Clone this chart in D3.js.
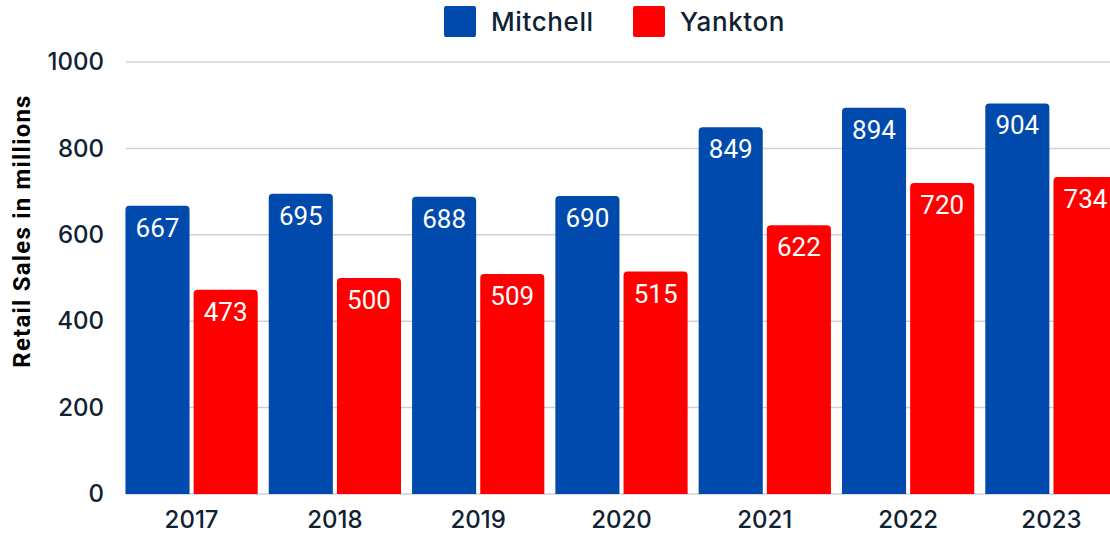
<!DOCTYPE html>
<html><head><meta charset="utf-8">
<script src="https://cdn.jsdelivr.net/npm/d3@7"></script>
<style>body{margin:0;background:#fff}svg{display:block}</style>
</head><body>
<svg id="c" width="1110" height="536"></svg>
<script>
const years = ["2017","2018","2019","2020","2021","2022","2023"];
const seriesNames = ["Mitchell","Yankton"];
const mitchell = [667,695,688,690,849,894,904];
const yankton = [473,500,509,515,622,720,734];
const yTicks = [0,200,400,600,800,1000];
const colors = ["#004aad","#ff0000"];
const textColor = "#0f2234";
const font = "Inter, 'Open Sans', sans-serif";

const svg = d3.select("#c");
const x = d3.scaleBand().domain(years).range([120, 1123]).paddingInner(0.077).paddingOuter(0.038);
const y = d3.scaleLinear().domain([0,1000]).range([494, 62]);
const x1 = d3.scaleBand().domain(seriesNames).range([0, x.bandwidth()]).paddingInner(0.06);

// grid
const yAxis = d3.axisLeft(y).tickValues(yTicks).tickSize(0).tickPadding(0).tickFormat(d3.format("d"));
const gy = svg.append("g").attr("transform","translate(104,0)").call(yAxis);
gy.select(".domain").remove();
gy.selectAll("text").attr("font-family",font).attr("font-size",24).attr("fill",textColor).attr("font-weight",500);
svg.append("g").selectAll("line").data(yTicks).join("line")
  .attr("x1",126).attr("x2",1110).attr("y1",d=>y(d)).attr("y2",d=>y(d))
  .attr("stroke","#ccd1d9").attr("stroke-width",1.5);

// bars
const data = years.map((yr,i)=>({year:yr, vals:[mitchell[i], yankton[i]]}));
function topRounded(x0,y0,w,h,r){
  return `M${x0},${y0+h}V${y0+r}Q${x0},${y0} ${x0+r},${y0}H${x0+w-r}Q${x0+w},${y0} ${x0+w},${y0+r}V${y0+h}Z`;
}
const g = svg.append("g");
data.forEach(d=>{
  d.vals.forEach((v,j)=>{
    const bx = x(d.year)+x1(seriesNames[j]);
    const bw = x1.bandwidth();
    const by = y(v);
    g.append("path").attr("d", topRounded(bx,by,bw,y(0)-by,4)).attr("fill",colors[j]);
    g.append("text").attr("x",bx+bw/2).attr("y",by+31).attr("text-anchor","middle")
      .attr("font-family","Roboto, sans-serif").attr("font-size",26).attr("fill","#fff").text(v);
  });
});

// x axis
const xAxis = d3.axisBottom(x).tickSize(0).tickPadding(0);
const gx = svg.append("g").attr("transform","translate(0,528)").call(xAxis);
gx.select(".domain").remove();
gx.selectAll("text").attr("font-family",font).attr("font-size",24).attr("fill",textColor).attr("font-weight",500).attr("dy",0);

// y title
svg.append("text").attr("transform","translate(30,231) rotate(-90)").attr("text-anchor","middle")
  .attr("font-family","Roboto, sans-serif").attr("font-weight",700).attr("font-size",24)
  .attr("letter-spacing",1.2).attr("fill","#000")
  .text("Retail Sales in millions");

// legend
const legX = [444, 633];
seriesNames.forEach((n,i)=>{
  svg.append("rect").attr("x",legX[i]).attr("y",6).attr("width",32).attr("height",31).attr("rx",2).attr("fill",colors[i]);
  svg.append("text").attr("x",legX[i]+47).attr("y",31).attr("font-family",font).attr("font-size",26)
    .attr("letter-spacing",0.6).attr("font-weight",500).attr("fill",textColor).text(n);
});
</script>
</body></html>
